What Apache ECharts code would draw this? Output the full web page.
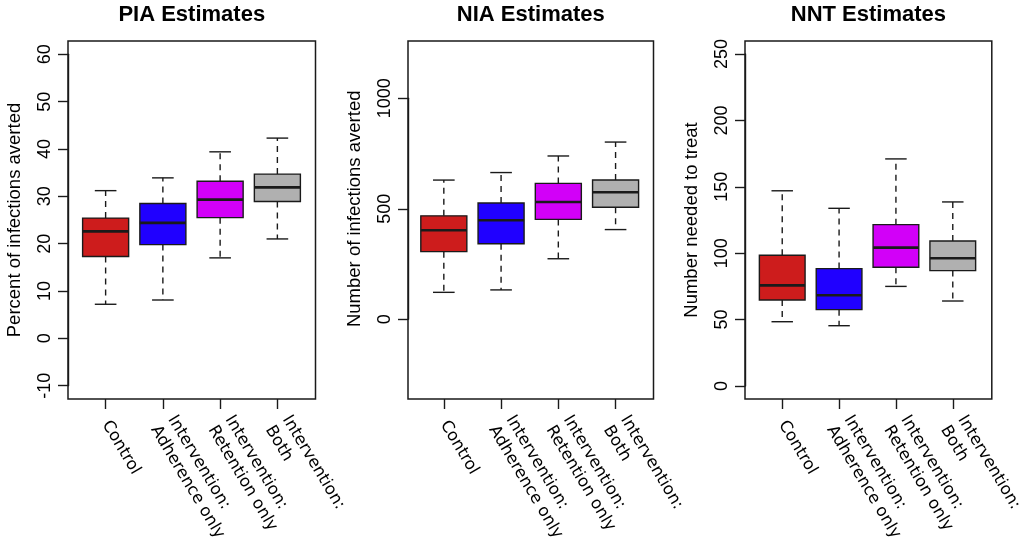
<!DOCTYPE html>
<html><head><meta charset="utf-8">
<script src="https://cdn.jsdelivr.net/npm/echarts@6/dist/echarts.min.js"></script>
<style>html,body{margin:0;padding:0;background:#fff}#c{width:1026px;height:555px}</style>
</head><body><div id="c"></div>
<script>
// ---------- data ----------
const categories = ['Control', 'Intervention:\nAdherence only', 'Intervention:\nRetention only', 'Intervention:\nBoth'];
const boxColors = ['#CD1C1C', '#2000FF', '#D200F8', '#B0B0B0'];
// each row: [lower whisker, Q1, median, Q3, upper whisker]
const piaStats = [
  [7.2, 17.3, 22.6, 25.4, 31.2],
  [8.1, 19.8, 24.4, 28.5, 33.9],
  [17.0, 25.5, 29.3, 33.2, 39.4],
  [21.0, 28.9, 31.9, 34.7, 42.3]
];
const niaStats = [
  [122, 306, 403, 468, 630],
  [133, 342, 448, 526, 664],
  [274, 452, 531, 615, 739],
  [406, 507, 575, 630, 802]
];
const nntStats = [
  [48.4, 64.8, 75.8, 98.4, 147],
  [45.4, 57.5, 68.3, 88.4, 133.8],
  [75, 89.4, 104.2, 121.5, 171],
  [64, 86.9, 96.2, 109.2, 138.6]
];
const titles = ['PIA Estimates', 'NIA Estimates', 'NNT Estimates'];
const yNames = ['Percent of infections averted', 'Number of infections averted', 'Number needed to treat'];
const piaTicks = [-10, 0, 10, 20, 30, 40, 50, 60];
const niaTicks = [0, 500, 1000];
const nntTicks = [0, 50, 100, 150, 200, 250];

// ---------- layout ----------
const panels = [
  {stats: piaStats, ticks: piaTicks, frame: {x: 68, y: 41, w: 247.5, h: 358}, gridLeft: 77, gridTop: 54.3, gridBottom: 385.7},
  {stats: niaStats, ticks: niaTicks, frame: {x: 408, y: 41, w: 245.5, h: 358}, gridLeft: 415.2, gridTop: 98.3, gridBottom: 319.3},
  {stats: nntStats, ticks: nntTicks, frame: {x: 745, y: 41, w: 246.8, h: 358}, gridLeft: 753.8, gridTop: 54, gridBottom: 386}
];
const gridWidth = 229;
const ink = '#1a1a1a';

function renderBox(params, api) {
  const idx = api.value(0);
  const lo = api.coord([idx, api.value(1)]);
  const q1 = api.coord([idx, api.value(2)]);
  const md = api.coord([idx, api.value(3)]);
  const q3 = api.coord([idx, api.value(4)]);
  const hi = api.coord([idx, api.value(5)]);
  const band = api.size([1, 0])[0];
  const hw = band * 0.402;
  const cw = hw * 0.47;
  const cx = md[0];
  const dash = {stroke: ink, lineWidth: 1.4, lineDash: [6, 5]};
  const solid = {stroke: ink, lineWidth: 1.4};
  return {type: 'group', children: [
    {type: 'line', shape: {x1: cx, y1: q3[1], x2: cx, y2: hi[1]}, style: dash},
    {type: 'line', shape: {x1: cx, y1: q1[1], x2: cx, y2: lo[1]}, style: dash},
    {type: 'line', shape: {x1: cx - cw, y1: hi[1], x2: cx + cw, y2: hi[1]}, style: solid},
    {type: 'line', shape: {x1: cx - cw, y1: lo[1], x2: cx + cw, y2: lo[1]}, style: solid},
    {type: 'rect', shape: {x: cx - hw, y: q3[1], width: 2 * hw, height: q1[1] - q3[1]}, style: {fill: boxColors[idx], stroke: ink, lineWidth: 1.4}},
    {type: 'line', shape: {x1: cx - hw, y1: md[1], x2: cx + hw, y2: md[1]}, style: {stroke: ink, lineWidth: 2.6}}
  ]};
}

const grids = [], xAxes = [], yAxes = [], series = [], titleOpts = [], frames = [];
panels.forEach((p, i) => {
  const f = p.frame;
  grids.push({left: p.gridLeft, top: p.gridTop, width: gridWidth, height: p.gridBottom - p.gridTop, containLabel: false});
  titleOpts.push({
    text: titles[i], left: f.x + f.w / 2, top: 4, textAlign: 'center', padding: 0,
    textStyle: {fontFamily: 'Liberation Sans', fontWeight: 'bold', fontSize: 22, color: '#000'}
  });
  frames.push({type: 'rect', shape: {x: f.x, y: f.y, width: f.w, height: f.h}, style: {fill: 'none', stroke: ink, lineWidth: 1.5}, z: 100});
  const t = p.ticks;
  yAxes.push({
    type: 'value', gridIndex: i, min: t[0], max: t[t.length - 1], interval: t[1] - t[0],
    offset: p.gridLeft - f.x,
    axisLine: {show: true, onZero: false, lineStyle: {color: ink, width: 1.4}},
    axisTick: {show: true, length: 10, lineStyle: {color: ink, width: 1.4}},
    splitLine: {show: false},
    axisLabel: {rotate: 90, margin: 14, fontSize: 18, fontFamily: 'Liberation Sans', color: '#000', formatter: v => String(v)},
    name: yNames[i], nameLocation: 'middle', nameGap: 44,
    nameTextStyle: {fontSize: 18.5, fontFamily: 'Liberation Sans', color: '#000'}
  });
  xAxes.push({
    type: 'category', gridIndex: i, data: categories,
    offset: f.y + f.h - p.gridBottom,
    axisLine: {show: false, onZero: false},
    axisTick: {show: true, alignWithLabel: true, interval: 0, length: 10, lineStyle: {color: ink, width: 1.4}},
    axisLabel: {interval: 0, rotate: -59, margin: 23, fontSize: 16.5, lineHeight: 20, fontFamily: 'DejaVu Sans', color: '#000'}
  });
  series.push({
    type: 'custom', xAxisIndex: i, yAxisIndex: i,
    renderItem: renderBox,
    encode: {x: 0, y: [1, 2, 3, 4, 5]},
    data: p.stats.map((s, k) => [k].concat(s))
  });
});

const chart = echarts.init(document.getElementById('c'), null, {renderer: 'canvas'});
chart.setOption({
  backgroundColor: '#fff',
  animation: false,
  title: titleOpts,
  grid: grids,
  xAxis: xAxes,
  yAxis: yAxes,
  series: series,
  graphic: frames
});
</script>
</body></html>
